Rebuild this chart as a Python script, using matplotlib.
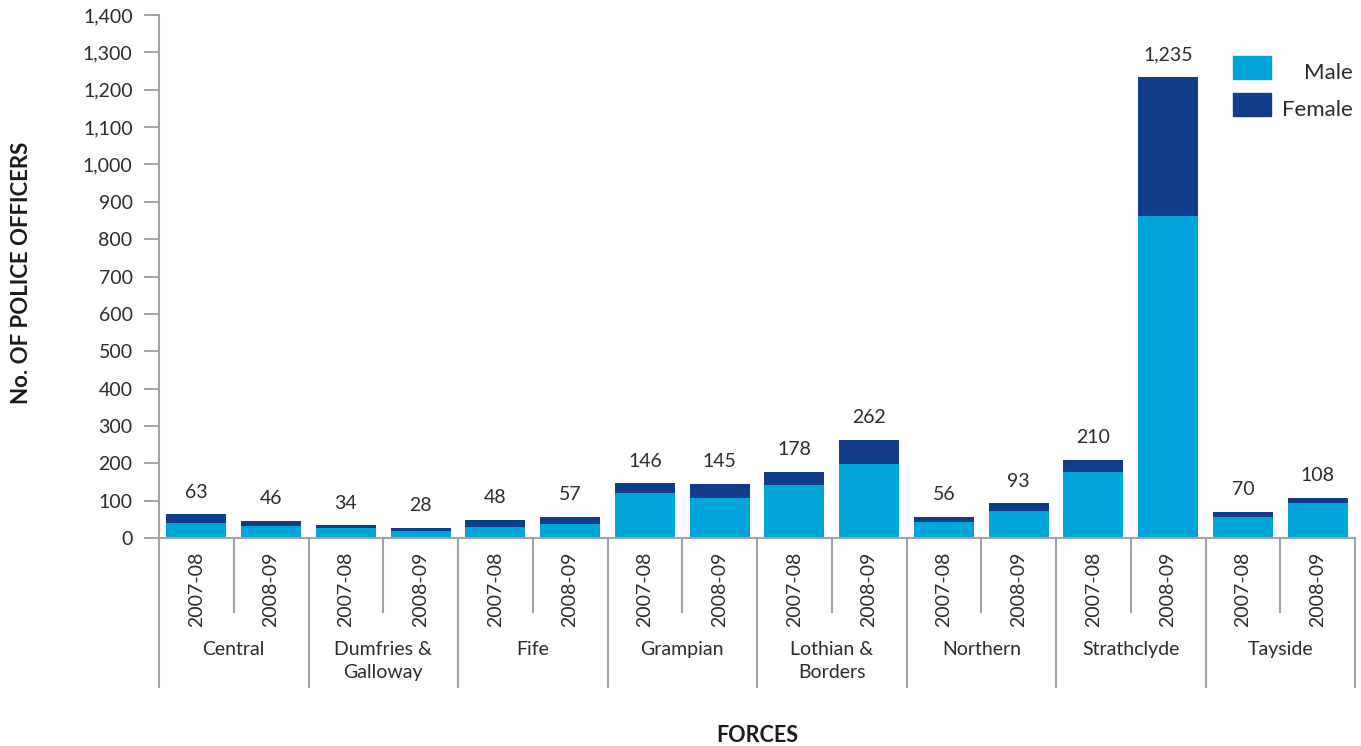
import numpy as np
import matplotlib
matplotlib.use("Agg")
import matplotlib.pyplot as plt
from matplotlib.patches import Rectangle

plt.rcParams['font.family'] = ['Lato', 'DejaVu Sans']

FORCES = ["Central", "Dumfries &\nGalloway", "Fife", "Grampian",
          "Lothian &\nBorders", "Northern", "Strathclyde", "Tayside"]
YEARS = ["2007-08", "2008-09"]

# officers per force and year, in the order 2007-08, 2008-09 for each force
MALE = [40, 33, 28, 19, 29, 38, 121, 106, 141, 198, 44, 72, 177, 863, 57, 95]
FEMALE = [23, 13, 6, 9, 19, 19, 25, 39, 37, 64, 12, 21, 33, 372, 13, 13]
TOTALS = [63, 46, 34, 28, 48, 57, 146, 145, 178, 262, 56, 93, 210, 1235, 70, 108]

MALE_COL = "#00a5da"
FEMALE_COL = "#113c8a"
AXIS_COL = "#a3a3a3"
TEXT_COL = "#2b2b2b"
FS = 14


def main():
    fig = plt.figure(figsize=(13.61, 7.46), dpi=100)
    ax = fig.add_axes([159 / 1361, 1 - 538 / 746, (1355 - 159) / 1361, 523 / 746])

    x = np.arange(len(MALE))
    ax.bar(x, MALE, width=0.8, color=MALE_COL, zorder=2)
    ax.bar(x, FEMALE, width=0.8, bottom=MALE, color=FEMALE_COL, zorder=2)

    for xi, top, total in zip(x, np.add(MALE, FEMALE), TOTALS):
        ax.annotate("{:,}".format(total), (xi, top), xytext=(0, 16),
                    textcoords="offset points", ha="center", va="center",
                    fontsize=FS, color=TEXT_COL)

    ax.set_xlim(-0.5, len(MALE) - 0.5)
    ax.set_ylim(0, 1400)
    ax.set_yticks(np.arange(0, 1401, 100))
    ax.set_yticklabels(["{:,}".format(v) for v in range(0, 1401, 100)],
                       fontsize=FS, color=TEXT_COL)
    ax.tick_params(axis="y", length=11, width=1.4, color=AXIS_COL, pad=8)
    ax.set_xticks([])

    for side in ["top", "right"]:
        ax.spines[side].set_visible(False)
    for side in ["left", "bottom"]:
        ax.spines[side].set_color(AXIS_COL)
        ax.spines[side].set_linewidth(1.5)

    # category axis drawn by hand: dividers, year labels, force labels
    trans = ax.get_xaxis_transform()
    minor_len = 74 / 523
    major_len = 149 / 523
    for g in range(len(FORCES) + 1):
        xg = 2 * g - 0.5
        ax.plot([xg, xg], [0, -major_len], transform=trans, clip_on=False,
                color=AXIS_COL, lw=1.5)
    for g in range(len(FORCES)):
        xm = 2 * g + 0.5
        ax.plot([xm, xm], [0, -minor_len], transform=trans, clip_on=False,
                color=AXIS_COL, lw=1.5)
        for k, yr in enumerate(YEARS):
            ax.text(2 * g + k, -14 / 523, yr, transform=trans, rotation=90,
                    ha="center", va="top", fontsize=FS, color=TEXT_COL)
        ax.text(2 * g + 0.5, -103 / 523, FORCES[g], transform=trans,
                ha="center", va="top", fontsize=FS, color=TEXT_COL,
                linespacing=1.4)

    fig.text(757 / 1361, 1 - 735 / 746, "FORCES", ha="center", va="center",
             fontsize=15.5, fontweight="bold", color="#1a1a1a")
    fig.text(22 / 1361, 1 - 273 / 746, "No. OF POLICE OFFICERS", rotation=90,
             ha="center", va="center", fontsize=16, fontweight="bold",
             color="#1a1a1a")

    # legend
    for i, (name, col) in enumerate([("Male", MALE_COL), ("Female", FEMALE_COL)]):
        y0 = 56 + 37 * i
        fig.patches.append(Rectangle((1233 / 1361, 1 - (y0 + 23) / 746),
                                     38 / 1361, 23 / 746, color=col,
                                     transform=fig.transFigure))
        fig.text(1353 / 1361, 1 - (y0 + 17) / 746, name, ha="right",
                 va="center", fontsize=16, color=TEXT_COL)

    fig.savefig("out.png", dpi=100, facecolor="white")


if __name__ == "__main__":
    main()
